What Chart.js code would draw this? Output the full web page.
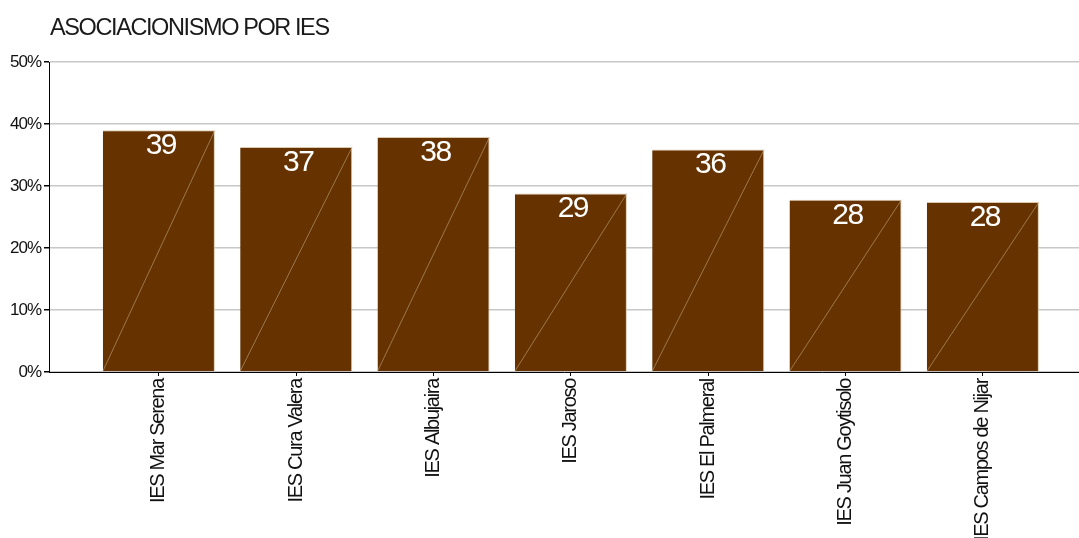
<!DOCTYPE html>
<html>
<head>
<meta charset="utf-8">
<script src="https://cdn.jsdelivr.net/npm/chart.js@4.4.1/dist/chart.umd.min.js"></script>
<style>
  html, body { margin: 0; padding: 0; background: #fff; }
  #wrap { width: 1079px; height: 538px; position: relative; }
</style>
</head>
<body>
<div id="wrap"><canvas id="barChart"></canvas></div>
<script>
var categories = ["IES Mar Serena", "IES Cura Valera", "IES Albujaira", "IES Jaroso", "IES El Palmeral", "IES Juan Goytisolo", "IES Campos de Nijar"];
var percentages = [39.0, 36.3, 37.9, 28.8, 35.9, 27.8, 27.4];
var barLabels = ["39", "37", "38", "29", "36", "28", "28"];
var yTicks = [0, 10, 20, 30, 40, 50];

var font = "'Liberation Sans', Arial, sans-serif";

// tighter letter spacing to get close to the narrow font of the original
function tighten(scale, spacing) {
  if (scale._tightened) return;
  scale._tightened = true;
  var orig = scale.drawLabels;
  scale.drawLabels = function(area) {
    var c = this.ctx;
    c.save();
    c.letterSpacing = spacing;
    orig.call(this, area);
    c.restore();
  };
}

// title + labels inside bars + the faint diagonal in each bar
var extras = {
  id: 'extras',
  afterLayout: function(chart) {
    tighten(chart.scales.x, '-1.3px');
    tighten(chart.scales.y, '-1px');
  },
  afterDatasetsDraw: function(chart) {
    var ctx = chart.ctx;
    var meta = chart.getDatasetMeta(0);
    ctx.save();
    meta.data.forEach(function(bar, i) {
      var left = bar.x - bar.width / 2, right = bar.x + bar.width / 2;
      ctx.beginPath();
      ctx.moveTo(left, bar.base);
      ctx.lineTo(right, bar.y);
      ctx.strokeStyle = 'rgba(210,185,155,0.5)';
      ctx.lineWidth = 1;
      ctx.stroke();
      ctx.fillStyle = '#ffffff';
      ctx.font = '30px ' + font;
      ctx.letterSpacing = '-1.5px';
      ctx.textAlign = 'center';
      ctx.textBaseline = 'alphabetic';
      ctx.fillText(barLabels[i], bar.x + 2, bar.y + 24);
    });
    ctx.fillStyle = '#1a1a1a';
    ctx.font = '23.5px ' + font;
    ctx.letterSpacing = '-1.4px';
    ctx.textAlign = 'left';
    ctx.fillText('ASOCIACIONISMO POR IES', 50, 35);
    ctx.restore();
  }
};

var ctxB = document.getElementById("barChart").getContext('2d');
var myBarChart = new Chart(ctxB, {
  type: 'bar',
  data: {
    datasets: [{
      label: "Asociacionismo",
      data: percentages.map(function(v, i) { return { x: i, y: v }; }),
      backgroundColor: '#663300',
      borderColor: 'rgba(215,195,165,0.9)',
      borderWidth: { top: 1, right: 1, left: 0, bottom: 0 },
      categoryPercentage: 1,
      barPercentage: 0.816
    }]
  },
  options: {
    responsive: true,
    maintainAspectRatio: false,
    animation: false,
    layout: { padding: { top: 62, right: 0, left: 0, bottom: 0 } },
    plugins: {
      legend: { display: false },
      tooltip: { enabled: false },
      title: { display: false }
    },
    scales: {
      x: {
        type: 'linear',
        offset: false,
        min: -0.8,
        max: 6.7,
        afterBuildTicks: function(scale) {
          scale.ticks = categories.map(function(c, i) { return { value: i }; });
        },
        afterFit: function(scale) { scale.height = 166; },
        border: { color: '#000', width: 1 },
        grid: { offset: false, drawOnChartArea: false, tickLength: 4, tickColor: '#000' },
        ticks: {
          minRotation: 90,
          maxRotation: 90,
          autoSkip: false,
          padding: 3,
          color: '#111',
          font: { family: font, size: 20 },
          callback: function(v) { return categories[v]; }
        }
      },
      y: {
        min: 0,
        max: 50,
        afterBuildTicks: function(scale) {
          scale.ticks = yTicks.map(function(v) { return { value: v }; });
        },
        afterFit: function(scale) { scale.width = 49; },
        border: { color: '#000', width: 1 },
        grid: { color: '#c8c8c8', lineWidth: 1.5, tickLength: 5, tickColor: '#000' },
        ticks: {
          padding: 3,
          color: '#111',
          font: { family: font, size: 17 },
          callback: function(v) { return v + '%'; }
        }
      }
    }
  },
  plugins: [extras]
});
</script>
</body>
</html>
